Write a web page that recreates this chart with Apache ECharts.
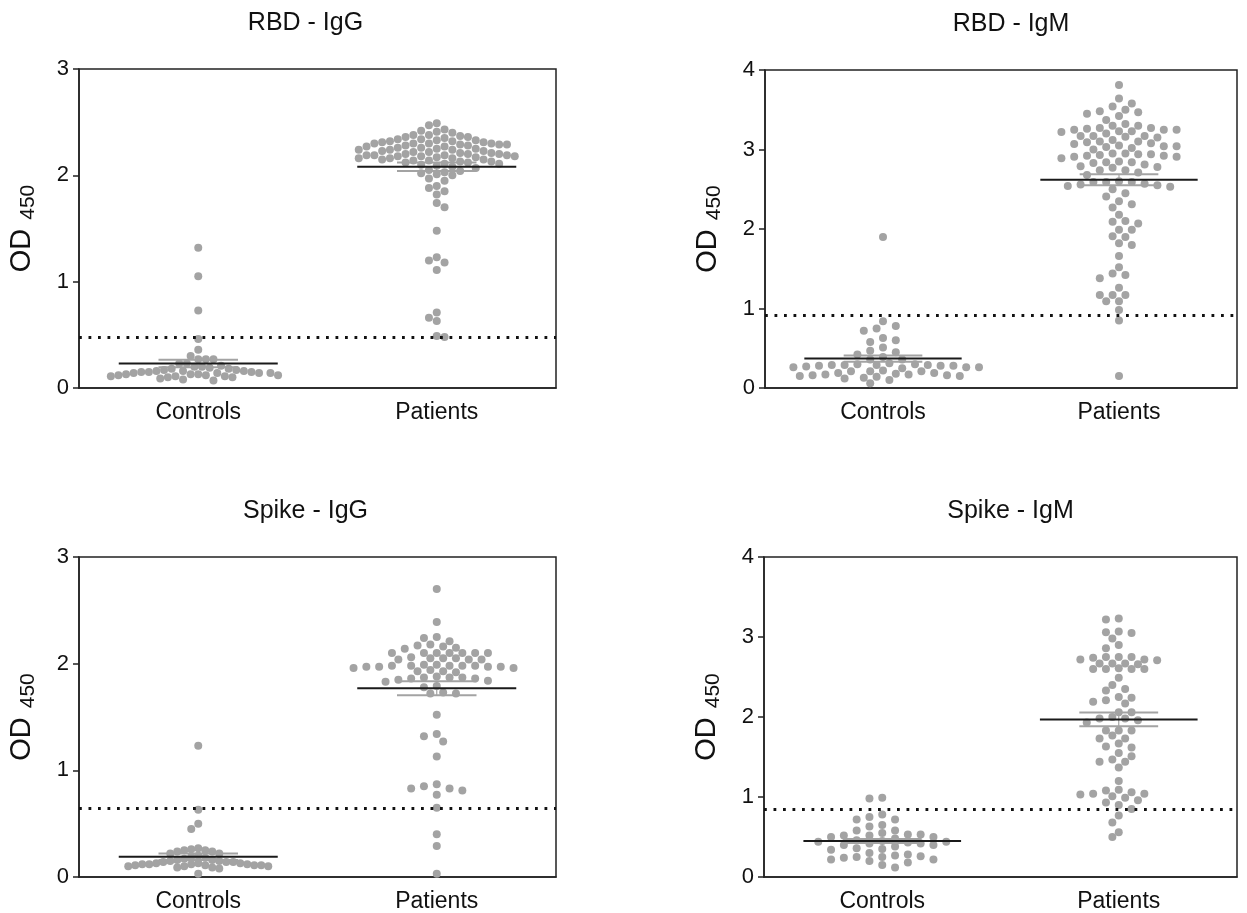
<!DOCTYPE html>
<html lang="en">
<head>
    <meta charset="UTF-8"/>
    <script src="https://cdn.jsdelivr.net/npm/echarts@6.0.0/dist/echarts.min.js"></script>
    <title>OD450 scatter</title>
    <style>
        html, body { margin: 0; padding: 0; background: #fff; }
        #main { width: 1247px; height: 913px; }
    </style>
</head>
<body>
<div id="main"></div>
<script type="text/javascript">
    // categories and panel titles
    var groups = ['Controls', 'Patients'];
    var panelTitles = ['RBD - IgG', 'RBD - IgM', 'Spike - IgG', 'Spike - IgM'];
    var yMax = [3, 4, 3, 4];

    // values (OD 450)
    var rbdIgGControls = [1.32, 1.05, 0.73, 0.46, 0.36, 0.30, 0.27, 0.27, 0.27, 0.23, 0.23, 0.21, 0.20, 0.20, 0.19,
        0.18, 0.18, 0.17, 0.17, 0.16, 0.16, 0.16, 0.15, 0.15, 0.15, 0.14, 0.14, 0.14, 0.14, 0.13, 0.13, 0.13,
        0.12, 0.12, 0.12, 0.11, 0.11, 0.11, 0.10, 0.10, 0.09, 0.08, 0.07];
    var rbdIgGPatients = [2.49, 2.47, 2.43, 2.42, 2.41, 2.40, 2.38, 2.38, 2.37, 2.36, 2.36, 2.35, 2.34, 2.34, 2.33,
        2.33, 2.32, 2.32, 2.31, 2.31, 2.30, 2.30, 2.30, 2.30, 2.29, 2.29, 2.29, 2.28, 2.28, 2.27, 2.27, 2.26,
        2.26, 2.25, 2.25, 2.24, 2.24, 2.24, 2.23, 2.23, 2.22, 2.22, 2.21, 2.21, 2.20, 2.20, 2.20, 2.19, 2.19,
        2.19, 2.19, 2.18, 2.18, 2.18, 2.17, 2.17, 2.16, 2.16, 2.16, 2.15, 2.15, 2.14, 2.14, 2.13, 2.13, 2.12,
        2.12, 2.11, 2.11, 2.10, 2.09, 2.08, 2.07, 2.05, 2.04, 2.03, 2.02, 2.01, 2.00, 1.97, 1.95, 1.90, 1.88,
        1.85, 1.82, 1.74, 1.70, 1.48, 1.23, 1.20, 1.18, 1.11, 0.71, 0.66, 0.63, 0.49, 0.48];
    var rbdIgMControls = [1.90, 0.84, 0.78, 0.75, 0.72, 0.63, 0.60, 0.58, 0.51, 0.47, 0.45, 0.42, 0.39, 0.36, 0.36,
        0.31, 0.30, 0.30, 0.29, 0.29, 0.29, 0.29, 0.28, 0.28, 0.28, 0.27, 0.26, 0.26, 0.26, 0.25, 0.22, 0.21,
        0.21, 0.21, 0.19, 0.19, 0.18, 0.17, 0.17, 0.16, 0.16, 0.15, 0.15, 0.14, 0.13, 0.12, 0.10, 0.06];
    var rbdIgMPatients = [3.81, 3.64, 3.58, 3.54, 3.50, 3.48, 3.47, 3.45, 3.42, 3.37, 3.32, 3.30, 3.30, 3.27, 3.27,
        3.26, 3.25, 3.25, 3.25, 3.23, 3.23, 3.22, 3.20, 3.17, 3.17, 3.17, 3.16, 3.15, 3.12, 3.10, 3.10, 3.09,
        3.08, 3.07, 3.05, 3.04, 3.04, 3.03, 3.02, 3.00, 2.95, 2.95, 2.94, 2.93, 2.94, 2.92, 2.92, 2.91, 2.91,
        2.89, 2.85, 2.84, 2.84, 2.83, 2.81, 2.79, 2.78, 2.77, 2.74, 2.74, 2.71, 2.68, 2.60, 2.59, 2.59, 2.59,
        2.57, 2.56, 2.55, 2.54, 2.53, 2.50, 2.45, 2.41, 2.35, 2.31, 2.27, 2.18, 2.10, 2.09, 2.07, 1.99, 1.99,
        1.91, 1.90, 1.82, 1.80, 1.66, 1.52, 1.44, 1.42, 1.38, 1.26, 1.17, 1.17, 1.17, 1.09, 1.09, 0.98, 0.85, 0.15];
    var spikeIgGControls = [1.23, 0.63, 0.50, 0.45, 0.27, 0.26, 0.25, 0.25, 0.24, 0.24, 0.22, 0.22, 0.20, 0.19,
        0.18, 0.17, 0.16, 0.16, 0.15, 0.15, 0.14, 0.14, 0.14, 0.13, 0.13, 0.13, 0.12, 0.12, 0.12, 0.12, 0.11,
        0.11, 0.11, 0.11, 0.10, 0.10, 0.10, 0.09, 0.09, 0.08, 0.03];
    var spikeIgGPatients = [2.70, 2.39, 2.25, 2.24, 2.21, 2.18, 2.17, 2.16, 2.15, 2.14, 2.10, 2.10, 2.10, 2.10,
        2.10, 2.10, 2.10, 2.06, 2.05, 2.05, 2.05, 2.04, 2.04, 2.04, 1.99, 1.99, 1.98, 1.98, 1.98, 1.98, 1.98,
        1.97, 1.97, 1.97, 1.97, 1.96, 1.96, 1.94, 1.93, 1.93, 1.92, 1.88, 1.87, 1.87, 1.87, 1.86, 1.86, 1.85,
        1.84, 1.83, 1.79, 1.78, 1.73, 1.72, 1.72, 1.52, 1.34, 1.32, 1.27, 1.13, 0.87, 0.85, 0.83, 0.83, 0.81,
        0.77, 0.65, 0.40, 0.29, 0.03];
    var spikeIgMControls = [0.99, 0.98, 0.78, 0.75, 0.72, 0.72, 0.65, 0.63, 0.58, 0.58, 0.55, 0.53, 0.53, 0.52,
        0.52, 0.50, 0.50, 0.48, 0.46, 0.45, 0.44, 0.44, 0.43, 0.42, 0.42, 0.40, 0.40, 0.38, 0.36, 0.35, 0.34,
        0.30, 0.28, 0.27, 0.26, 0.25, 0.25, 0.24, 0.22, 0.22, 0.20, 0.18, 0.15, 0.12];
    var spikeIgMPatients = [3.23, 3.22, 3.07, 3.06, 3.05, 2.98, 2.90, 2.86, 2.75, 2.75, 2.75, 2.74, 2.72, 2.72,
        2.71, 2.67, 2.67, 2.67, 2.66, 2.61, 2.60, 2.60, 2.60, 2.60, 2.49, 2.40, 2.35, 2.33, 2.25, 2.24, 2.21,
        2.19, 2.17, 2.06, 2.06, 2.00, 1.98, 1.98, 1.96, 1.93, 1.83, 1.83, 1.83, 1.77, 1.73, 1.73, 1.67, 1.63,
        1.62, 1.55, 1.51, 1.47, 1.44, 1.44, 1.37, 1.20, 1.09, 1.08, 1.06, 1.04, 1.04, 1.03, 1.01, 0.99, 0.96,
        0.93, 0.90, 0.85, 0.77, 0.68, 0.56, 0.50];

    // mean and SEM per panel [controls, patients], cutoff lines
    var rbdIgGMean = [0.23, 2.08], rbdIgGSem = [0.035, 0.04];
    var rbdIgMMean = [0.37, 2.62], rbdIgMSem = [0.04, 0.07];
    var spikeIgGMean = [0.19, 1.77], spikeIgGSem = [0.03, 0.065];
    var spikeIgMMean = [0.45, 1.97], spikeIgMSem = [0.025, 0.085];
    var cutoffs = [0.48, 0.92, 0.64, 0.85];

    var panelData = [
        [rbdIgGControls, rbdIgGPatients],
        [rbdIgMControls, rbdIgMPatients],
        [spikeIgGControls, spikeIgGPatients],
        [spikeIgMControls, spikeIgMPatients]
    ];
    var panelMean = [rbdIgGMean, rbdIgMMean, spikeIgGMean, spikeIgMMean];
    var panelSem = [rbdIgGSem, rbdIgMSem, spikeIgGSem, spikeIgMSem];

    var FONT = "'Liberation Sans', Arial, Helvetica, sans-serif";
    var grids = [
        {left: 79, top: 69, width: 477, height: 319},
        {left: 765, top: 70, width: 472, height: 318},
        {left: 79, top: 557, width: 477, height: 320},
        {left: 764, top: 557, width: 473, height: 320}
    ];
    // horizontal spacing of the swarm columns (px), per panel and group
    var colStep = [[7.6, 7.8], [12.8, 12.8], [7, 12.8], [12.8, 12.8]];
    var halfSteps = [[true, true], [true, true], [true, true], [false, true]];
    var DOT = 8;

    // beeswarm: horizontal offsets (px) so that dots do not overlap
    function swarm(vals, pxPerUnit, step, diam, half) {
        var order = vals.map(function (v, i) { return i; });
        order.sort(function (a, b) { return vals[b] - vals[a]; });
        var placed = [];
        var offs = [];
        var flip = 1;
        var inc = half ? step / 2 : step;
        order.forEach(function (idx) {
            var y = vals[idx] * pxPerUnit;
            var found = 0;
            for (var k = 0; k < 200; k++) {
                var cands = k === 0 ? [0] : [flip * k * inc, -flip * k * inc];
                var ok = false;
                for (var c = 0; c < cands.length; c++) {
                    var x = cands[c];
                    var hit = placed.some(function (p) {
                        var dx = p[0] - x, dy = p[1] - y;
                        return dx * dx + dy * dy < diam * diam;
                    });
                    if (!hit) { found = x; ok = true; break; }
                }
                if (ok) break;
            }
            flip = -flip;
            placed.push([found, y]);
            offs[idx] = found;
        });
        return offs;
    }

    function renderMeanSem(params, api) {
        var cx = api.value(0), m = api.value(1), s = api.value(2);
        var a = api.coord([cx - 1 / 3, m]), b = api.coord([cx + 1 / 3, m]);
        var u1 = api.coord([cx - 1 / 6, m + s]), u2 = api.coord([cx + 1 / 6, m + s]);
        var l1 = api.coord([cx - 1 / 6, m - s]), l2 = api.coord([cx + 1 / 6, m - s]);
        var semStyle = {stroke: '#a3a3a3', lineWidth: 2};
        return {
            type: 'group',
            children: [
                {type: 'line', shape: {x1: u1[0], y1: u1[1], x2: u2[0], y2: u2[1]}, style: semStyle},
                {type: 'line', shape: {x1: l1[0], y1: l1[1], x2: l2[0], y2: l2[1]}, style: semStyle},
                {type: 'line', shape: {x1: (u1[0] + u2[0]) / 2, y1: u1[1], x2: (u1[0] + u2[0]) / 2, y2: l1[1]}, style: {stroke: '#a3a3a3', lineWidth: 1.2}},
                {type: 'line', shape: {x1: a[0], y1: a[1], x2: b[0], y2: b[1]}, style: {stroke: '#1a1a1a', lineWidth: 2}}
            ]
        };
    }

    var option = {
        animation: false,
        backgroundColor: '#fff',
        grid: [],
        xAxis: [],
        yAxis: [],
        series: [],
        graphic: []
    };

    for (var p = 0; p < 4; p++) {
        var g = grids[p];
        option.grid.push({left: g.left, top: g.top, width: g.width, height: g.height,
            show: true, borderColor: '#222', borderWidth: 1.5, backgroundColor: 'transparent'});
        option.xAxis.push({
            type: 'category', gridIndex: p, data: groups, boundaryGap: true,
            axisLine: {lineStyle: {color: '#222', width: 1.5}},
            axisTick: {alignWithLabel: true, length: 6, lineStyle: {color: '#222', width: 1.5}},
            axisLabel: {color: '#111', fontSize: 23, fontFamily: FONT, margin: 13},
            splitLine: {show: false}
        });
        option.xAxis.push({type: 'value', gridIndex: p, min: 0, max: 2, show: false});
        option.yAxis.push({
            type: 'value', gridIndex: p, min: 0, max: yMax[p], interval: 1,
            name: '{a|OD}{b|450}', nameLocation: 'middle', nameGap: 40, nameRotate: 90,
            nameTextStyle: {
                color: '#111', fontFamily: FONT,
                rich: {
                    a: {fontSize: 29, fontFamily: FONT, color: '#111', lineHeight: 34, verticalAlign: 'middle'},
                    b: {fontSize: 21, fontFamily: FONT, color: '#111', lineHeight: 21, verticalAlign: 'bottom', padding: [0, 0, 0, 9]}
                }
            },
            axisLine: {show: true, lineStyle: {color: '#222', width: 1.5}},
            axisTick: {show: true, length: 6, lineStyle: {color: '#222', width: 1.5}},
            axisLabel: {color: '#111', fontSize: 22, fontFamily: FONT, margin: 10},
            splitLine: {show: false}
        });

        var pxPerUnit = g.height / yMax[p];
        for (var k = 0; k < 2; k++) {
            var vals = panelData[p][k];
            var step = colStep[p][k];
            var offs = swarm(vals, pxPerUnit, step, Math.min(DOT, step), halfSteps[p][k]);
            var pts = vals.map(function (v, i) {
                return [k + 0.5 + offs[i] * 2 / g.width, v];
            });
            var s = {
                type: 'scatter', xAxisIndex: 2 * p + 1, yAxisIndex: p,
                symbol: 'circle', symbolSize: DOT, z: 2, silent: true,
                itemStyle: {color: '#a3a3a3', opacity: 1},
                data: pts
            };
            if (k === 0) {
                s.markLine = {
                    silent: true, symbol: ['none', 'none'], label: {show: false},
                    lineStyle: {color: '#111', width: 2.8, type: [2.8, 6.7], opacity: 1},
                    data: [{yAxis: cutoffs[p]}]
                };
            }
            option.series.push(s);
        }
        option.series.push({
            type: 'custom', xAxisIndex: 2 * p + 1, yAxisIndex: p, z: 5, silent: true,
            renderItem: renderMeanSem,
            data: [[0.5, panelMean[p][0], panelSem[p][0]], [1.5, panelMean[p][1], panelSem[p][1]]]
        });
        option.graphic.push({
            type: 'text', x: g.left + g.width / 2 + (p % 2 === 0 ? -12 : 10), y: g.top - 46,
            style: {text: panelTitles[p], font: '25px ' + FONT, fill: '#111', textAlign: 'center', textVerticalAlign: 'middle'}
        });
    }

    var myChart = echarts.init(document.getElementById('main'));
    myChart.setOption(option);
</script>
</body>
</html>
